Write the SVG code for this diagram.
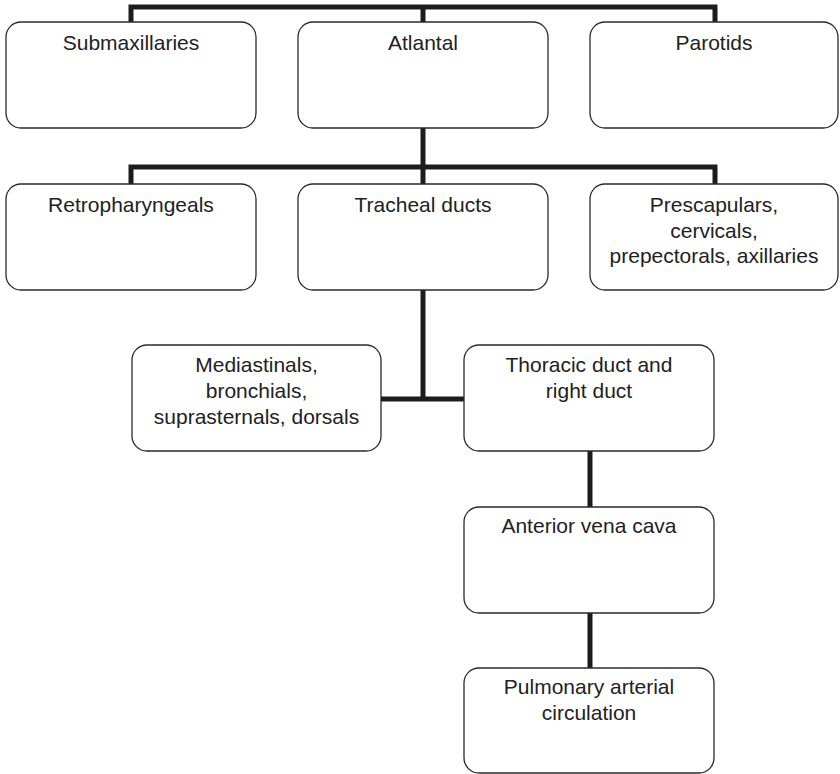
<svg xmlns="http://www.w3.org/2000/svg" width="840" height="774" viewBox="0 0 840 774">
  <style>
    .box { fill: #ffffff; stroke: #2a2a2a; stroke-width: 1.3; }
    .lbl { font-family: "Liberation Sans", Arial, sans-serif; font-size: 21px; fill: #222222; text-anchor: middle; }
    .link { fill: none; stroke: #1c1c1c; stroke-width: 5; stroke-linejoin: miter; stroke-linecap: butt; }
  </style>
  <rect width="840" height="774" fill="#ffffff"/>

  <!-- connectors -->
  <g id="connectors">
    <polyline class="link" points="131,22 131,7 715,7 715,22"/>
    <line class="link" x1="423" y1="7" x2="423" y2="22"/>
    <line class="link" x1="423" y1="128" x2="423" y2="184"/>
    <polyline class="link" points="131,184 131,167 715,167 715,184"/>
    <line class="link" x1="423" y1="290" x2="423" y2="399"/>
    <line class="link" x1="381" y1="399" x2="464" y2="399"/>
    <line class="link" x1="590" y1="451" x2="590" y2="507"/>
    <line class="link" x1="590" y1="613" x2="590" y2="668"/>
  </g>

  <!-- row 1 -->
  <g id="submaxillaries">
    <rect class="box" x="6" y="22" width="250" height="106" rx="15"/>
    <text class="lbl" x="131" y="50">Submaxillaries</text>
  </g>
  <g id="atlantal">
    <rect class="box" x="298" y="22" width="250" height="106" rx="15"/>
    <text class="lbl" x="423" y="50">Atlantal</text>
  </g>
  <g id="parotids">
    <rect class="box" x="590" y="22" width="248" height="106" rx="15"/>
    <text class="lbl" x="714" y="50">Parotids</text>
  </g>

  <!-- row 2 -->
  <g id="retropharyngeals">
    <rect class="box" x="6" y="184" width="250" height="106" rx="15"/>
    <text class="lbl" x="131" y="212">Retropharyngeals</text>
  </g>
  <g id="tracheal-ducts">
    <rect class="box" x="298" y="184" width="250" height="106" rx="15"/>
    <text class="lbl" x="423" y="212">Tracheal ducts</text>
  </g>
  <g id="prescapulars">
    <rect class="box" x="590" y="184" width="248" height="106" rx="15"/>
    <text class="lbl" x="714" y="212">Prescapulars,</text>
    <text class="lbl" x="714" y="237.5">cervicals,</text>
    <text class="lbl" x="714" y="263">prepectorals, axillaries</text>
  </g>

  <!-- row 3 -->
  <g id="mediastinals">
    <rect class="box" x="132" y="345" width="249" height="106" rx="15"/>
    <text class="lbl" x="256.5" y="372">Mediastinals,</text>
    <text class="lbl" x="256.5" y="398">bronchials,</text>
    <text class="lbl" x="256.5" y="424">suprasternals, dorsals</text>
  </g>
  <g id="thoracic-duct">
    <rect class="box" x="464" y="345" width="250" height="106" rx="15"/>
    <text class="lbl" x="589" y="372">Thoracic duct and</text>
    <text class="lbl" x="589" y="398">right duct</text>
  </g>

  <!-- lower chain -->
  <g id="anterior-vena-cava">
    <rect class="box" x="464" y="507" width="250" height="106" rx="15"/>
    <text class="lbl" x="589" y="533">Anterior vena cava</text>
  </g>
  <g id="pulmonary-circulation">
    <rect class="box" x="464" y="668" width="250" height="105" rx="15"/>
    <text class="lbl" x="589" y="694">Pulmonary arterial</text>
    <text class="lbl" x="589" y="720">circulation</text>
  </g>
</svg>
